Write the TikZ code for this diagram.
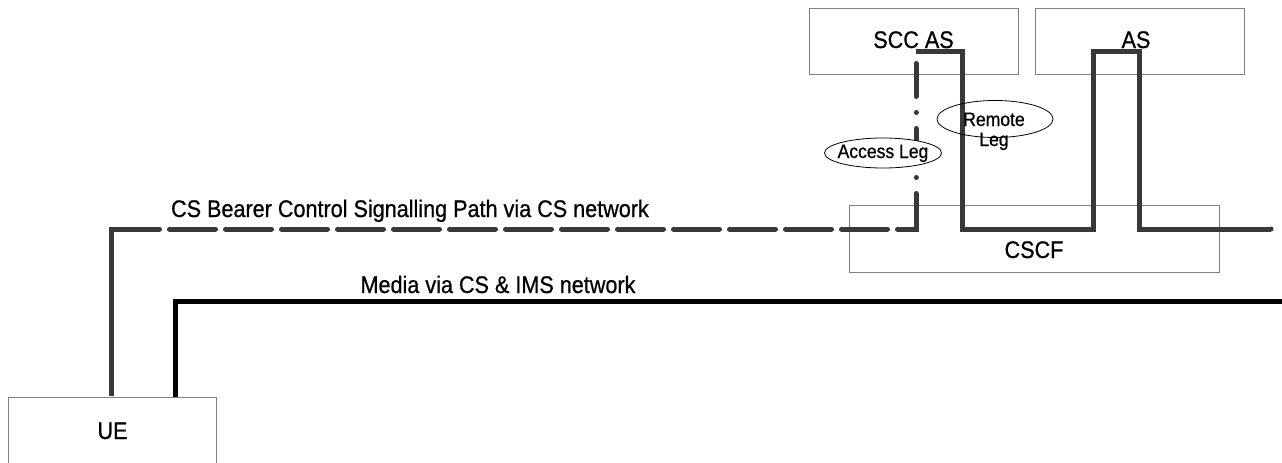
\documentclass[tikz,border=0pt]{standalone}
\usepackage{fontspec}
\setmainfont{Liberation Sans}[FakeStretch=0.9, FakeBold=0.7]
\usetikzlibrary{shapes.geometric}
\tikzset{
  box/.style={draw=black!50, line width=1pt},
  bigtxt/.style={font=\fontsize{24}{28}\selectfont, inner sep=0pt, anchor=base},
  legtxt/.style={font=\fontsize{19.5}{20}\selectfont, align=center, inner sep=0pt, anchor=base},
  legell/.style={ellipse, draw=black, line width=0.8pt, inner sep=0pt},
  sigline/.style={draw=black!78, line width=5pt, line join=miter},
  sigdash/.style={sigline, line cap=round, dash pattern=on 46pt off 10pt},
  sigvdash/.style={sigline, line cap=round, dash pattern=on 33pt off 16pt on 0.01pt off 16pt},
  medialine/.style={draw=black, line width=5pt, line join=miter},
}
\begin{document}
\begin{tikzpicture}[x=1pt, y=-1pt]
\useasboundingbox (0,0) rectangle (1282,463);
\clip (0,0) rectangle (1282,463);
% boxes
\draw[box] (809,8) rectangle (1018,74);
\node[bigtxt] (sccas) at (913.5,48) {SCC AS};
\draw[box] (1035,8) rectangle (1244,74);
\node[bigtxt] (as) at (1136,48) {AS};
\draw[box] (849,205) rectangle (1219,272);
\node[bigtxt] (cscf) at (1034,258) {CSCF};
\draw[box] (8,480) -- (8,397) -- (216,397) -- (216,480);
\node[bigtxt] (ue) at (112.5,439) {UE};
% coordinates
\coordinate (ueS) at (111,396);
\coordinate (ueM) at (175,397);
\coordinate (sigA) at (111,229);
\coordinate (sigB) at (916,229);
\coordinate (sigB2) at (916,226.5);
\coordinate (sigC) at (916,51);
\coordinate (sigC2) at (916,60);
\coordinate (sigD) at (962,51);
\coordinate (sigE) at (962,229);
\coordinate (sigF) at (1093,229);
\coordinate (sigG) at (1093,51);
\coordinate (sigH) at (1139,51);
\coordinate (sigI) at (1139,229);
\coordinate (sigJ) at (1271,229);
\coordinate (medA) at (175,301.5);
\coordinate (medB) at (1282,301.5);
% signalling path
\draw[sigline] (ueS) -- (sigA) -- ([xshift=2.5pt]sigA);
\draw[sigdash] ([xshift=2.5pt]sigA) -- ([xshift=-2.5pt]sigB);
\draw[sigline] ([xshift=-8pt]sigB) -- (sigB) -- (sigB2);
\draw[sigvdash] (sigB2) -- (sigC2);
\draw[sigline] (sigC) -- (sigD) -- (sigE) -- (sigF) -- (sigG) -- (sigH) -- (sigI) -- (sigJ);
\fill[black!78] (sigJ) circle (2.5pt);
% media path
\draw[medialine] (ueM) -- (medA) -- (medB);
% labels
\node[bigtxt] (siglbl) at (410,217) {CS Bearer Control Signalling Path via CS network};
\node[bigtxt] (medlbl) at (498,293) {Media via CS \& IMS network};
% ellipses
\node[legell, fill=white, minimum width=117pt, minimum height=30pt] (aleg) at (883,153) {};
\node[legtxt] (alegtxt) at (883,158) {Access Leg};
\node[legell, minimum width=116pt, minimum height=37pt] (rleg) at (995,119) {};
\node[legtxt] (rlegtxt) at (994,126) {Remote};
\node[legtxt] (rlegtxt2) at (994,146) {Leg};
\end{tikzpicture}
\end{document}
